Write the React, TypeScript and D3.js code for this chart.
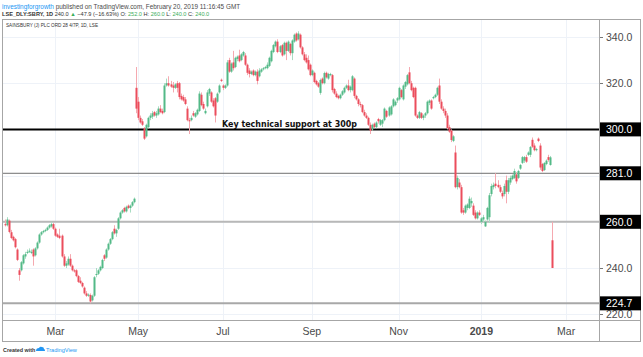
import React from "react";
import * as d3 from "d3";

// OHLC per trading day, Jan 25 2018 -> Feb 20 2019 (LSE, daily)
const ohlc: number[][] = [
  // Jan 25 - Apr 27 2018
  [259, 261, 258, 258.5], [258.5, 262, 258, 261], [260.5, 261, 255, 255.6], [255.5, 256.5, 252.5, 253],
  [253.5, 254, 251.5, 252], [252.5, 253, 248.5, 249], [248, 248.5, 243, 243.5], [239, 240, 234.5, 237],
  [239, 243, 238.5, 242.5], [242, 246, 241.5, 245.5], [245, 247, 244, 246], [246.5, 248, 246, 247],
  [247, 248.5, 246.5, 247.5], [246.5, 248, 246, 247], [248, 248.5, 241, 245], [245.5, 249, 245, 248.5],
  [248.5, 251.5, 248, 251], [251, 255, 250.5, 254.5], [254.5, 256, 254, 255.5], [255.5, 256.5, 255, 256],
  [256, 257, 255.5, 256.5], [256.5, 258, 256, 257.5], [257.5, 259, 257, 258.5], [258, 260, 257.5, 259],
  [259, 259.5, 256.5, 257], [257, 257.5, 253.5, 254], [254.5, 255, 253, 253.5], [254, 257, 252.5, 253],
  [254, 254.5, 244.5, 245], [245, 246, 240.5, 241], [241, 243, 240, 242], [241.5, 245, 241, 244],
  [244, 246, 240.5, 241], [241, 241.5, 238.5, 239], [239, 239.5, 238, 238.5], [239, 239.5, 236, 236.5],
  [236.5, 237, 233.5, 234], [234.5, 236, 233, 233.5], [233.5, 234, 231.5, 232], [231.5, 232, 228.5, 229],
  [229, 230, 227.5, 228], [228, 229, 227.5, 228.5], [228.3, 229, 224.7, 225.5], [226, 228.5, 225.5, 228],
  [228, 236.5, 227.5, 236], [237, 240, 236, 237.4], [237.5, 239.5, 237, 239], [239, 241, 238.5, 240.5],
  [240, 244, 239.5, 243.5], [245.5, 246, 243, 244], [244.5, 248.5, 244, 248], [248, 251, 247.5, 250.5],
  [250.5, 253, 250, 252.5], [252.5, 256, 252, 255.5], [257, 258.5, 254.5, 255], [255, 257, 253.5, 256.5],
  [257, 262, 256.5, 261.5], [261.5, 264.5, 261, 264], [264, 265.5, 263.5, 265], [266, 266.5, 264, 264.5],
  [264.5, 267, 264, 266.5], [267, 267.5, 265.5, 266], [266, 267.5, 264, 267], [267, 269, 266.5, 268.5],
  [268.5, 270.5, 268, 270],
  // Apr 30 - Oct 2018
  [318, 327, 307, 309], [312, 314, 304, 305], [305, 306, 302.5, 303], [303.5, 304.5, 301.5, 302],
  [300.5, 301, 295.4, 296], [297, 302.5, 296.5, 302], [301, 305.5, 300.5, 305], [305, 307, 304, 306],
  [305.5, 308, 304.5, 307], [307.5, 308, 305.5, 306], [306, 308, 305, 307], [306.5, 310, 306, 309],
  [309, 310.5, 307, 307.5], [308, 309, 306.5, 307], [307.5, 320, 307, 319], [319, 322, 318.5, 320],
  [320, 323, 318.5, 319], [319.5, 321, 318, 318.5], [319, 320.5, 316, 318], [318, 320, 317.5, 319.5],
  [320, 321, 316, 318], [320, 320.5, 313, 314], [314.5, 315.5, 312.5, 313], [314, 315, 312, 312.5],
  [313, 314, 310.5, 311], [309, 310, 303.5, 304], [304, 305, 298, 303.5], [304, 306, 303.5, 305],
  [307, 308, 305.5, 306], [305.5, 307.5, 305, 307], [306.5, 309, 306, 308.5], [308, 316.5, 307.5, 315.5],
  [315, 316, 310, 310.5], [311, 312, 308.5, 309], [307, 309, 306.5, 308], [310, 317, 309.5, 316],
  [315.5, 318, 314.5, 317.5], [316, 316.5, 311.5, 312], [312.5, 313.5, 309.5, 310], [313.5, 314, 303, 306],
  [312, 316, 311.5, 315.5], [316, 319.5, 315.5, 319], [321.5, 322, 320.5, 321], [319, 319.5, 317, 318],
  [318, 319.5, 317.5, 319], [319, 330, 318.5, 329], [330, 331, 324.5, 325], [325, 329, 324.5, 328.5],
  [329, 334, 325.5, 326.5], [327, 331.5, 326.5, 331], [330.5, 332, 329.5, 331.5], [332, 334.5, 329, 329.5],
  [330, 333, 329.5, 332.5], [332, 334, 331.5, 333.5], [332, 333, 327.5, 328], [328, 328.5, 323.5, 324.5],
  [325.5, 326.5, 322.5, 324], [324, 325.5, 323.5, 325], [325.5, 326, 323, 323.5], [323.5, 325.5, 323, 325],
  [325, 326, 319.5, 321], [323, 326.5, 322.5, 325.5], [325, 326.5, 324.5, 326], [326, 327, 325.5, 326.5],
  [326.5, 327.5, 326, 327], [326.5, 329, 326, 328], [327.5, 331.5, 327, 331], [329.5, 334.5, 329, 334],
  [333.5, 337, 333, 336.5], [336, 338.5, 335.5, 338], [338, 339, 333, 333.5], [333.5, 336.5, 333, 336],
  [336.5, 337, 331.5, 332], [332.5, 338, 332, 337.5], [337.5, 338, 330, 334], [334, 338.5, 333.5, 338],
  [337, 337.5, 332, 333], [333, 339, 330, 338.5], [338, 341.5, 337.5, 341], [341.5, 342, 338, 338.5],
  [339, 342.5, 338.5, 341.5], [341, 341.5, 335, 335.5], [335.5, 336, 332, 332.5], [332.5, 333.5, 329.5, 330],
  [331, 332.5, 328.5, 329], [330, 332, 325.5, 326], [328, 328.5, 323, 323.5], [323.5, 326, 323, 325.5],
  [324.5, 325, 320, 320.5], [321, 321.5, 319, 319.5], [320, 320.5, 318, 318.5], [315.8, 322, 315, 321.4],
  [322, 322.5, 319.5, 320], [320, 325, 319.5, 324.4], [324.5, 325, 322, 322.5], [322, 324.5, 321.5, 324],
  [323.5, 324.5, 323, 324], [323.5, 324, 316, 317], [317.5, 318, 315, 315.5], [315.5, 316.5, 313.5, 314],
  [314.5, 315, 313, 313.5], [313.5, 315.5, 313, 315], [315, 317, 314.5, 316.5], [316, 318.5, 315.5, 318],
  [318, 319.5, 317.5, 319], [319, 321.5, 316.5, 317], [317, 319, 316, 318.5], [317, 323.5, 316.5, 323],
  [322, 322.5, 313.5, 314.5], [314.5, 315, 312.5, 313], [313, 313.5, 310, 311], [311, 312, 309.5, 310.5],
  [310.5, 311, 307, 307.5], [307.5, 308.5, 305.5, 306], [306, 307, 304.5, 305], [305, 305.5, 301.5, 302],
  // Oct - Dec 2018
  [302, 303, 298, 299.5], [300, 302.5, 299.5, 302], [302.5, 303, 300.5, 301], [301, 303.5, 300.5, 303],
  [304.5, 305, 302.5, 303.5], [302, 304.5, 301.5, 304], [302.5, 304.5, 301, 304], [304, 309.5, 303.5, 309],
  [308, 308.5, 305, 305.5], [306, 310, 305.5, 309.5], [306.5, 310.5, 306, 310], [310, 313.5, 309.5, 313],
  [310.5, 312.5, 310, 312], [312.5, 314, 311.5, 313.5], [313, 318.5, 312.5, 318], [317, 317.5, 313.5, 314],
  [313, 319.5, 312.5, 319], [318.5, 321, 317.5, 320.5], [319.5, 324, 319, 323.5], [324.7, 327, 319.5, 320],
  [320, 321, 316.5, 317], [318, 318.5, 313.5, 314], [318, 318.5, 305.5, 306], [306, 306.5, 304.5, 305],
  [305, 308, 304.5, 307.5], [307, 307.5, 304.5, 305], [305, 306.5, 304, 306], [306, 307.5, 305, 307],
  [307, 312.5, 306.5, 312], [311.5, 313, 310.5, 312.5], [312.5, 313, 308.5, 309], [313.5, 314.5, 313, 314],
  [314, 315.5, 313.5, 315], [315, 318.5, 314.5, 318], [319, 322, 311, 312],
  [312, 313, 308.5, 309], [309, 310, 307, 308], [308, 309, 305, 306], [306, 307, 300, 300.6],
  [301, 302, 298.5, 299], [299.5, 300, 294.5, 295.4], [295, 297.5, 294.5, 297], [290, 293, 274.5, 275],
  [275, 280, 274, 279], [277, 278.5, 274.5, 275], [275, 276, 263.5, 264], [265, 266, 263, 264],
  [264, 267.5, 263.5, 267], [266, 268, 265, 267.5], [266, 271, 265.5, 270], [268, 270.5, 266.5, 269],
  [267, 268, 262.5, 263], [264, 265, 261, 261.5], [261.5, 264.5, 261, 264], [264, 265, 262.5, 263],
  // Jan - Feb 2019
  [260, 262, 259, 261.5], [261, 263, 260, 262], [258, 260.5, 257.8, 260], [261, 266.5, 260.5, 266],
  [262, 272.5, 259.5, 271.5], [272, 276.5, 271, 275.5], [275, 277, 274, 276], [276.5, 281, 274.5, 275.5],
  [276, 278, 274.5, 275], [275, 276, 272.5, 273], [272.5, 273.5, 270, 271], [272, 276.5, 271, 275.5],
  [278, 280, 268, 273], [273, 279, 272, 278], [277, 280, 276, 279], [278.5, 280.5, 278, 280],
  [279, 283, 278.5, 282], [280.5, 281.5, 276.5, 277.5], [279, 282.5, 278.5, 282], [283, 285, 282.5, 284.6],
  [285.5, 288.5, 285, 288], [286.5, 288.5, 285.5, 288], [288, 289, 285.5, 286], [289, 290.5, 288.5, 290],
  [289, 292.8, 288, 292.4], [295.5, 296.5, 292, 292.5], [293, 294, 290.5, 291], [291, 292, 290.5, 291.5],
  [296, 296.5, 294.5, 295], [293, 294, 282.5, 283.5], [285, 285.5, 281.5, 282], [282.4, 285.8, 282, 285.5],
  [285, 287, 284.5, 286.5], [288, 289, 286, 286.8], [284.6, 288.5, 284.3, 287.9], [252, 260, 240, 240],
];

const startDate = "2018-01-25";
const holidays = ["2018-03-30", "2018-04-02", "2018-05-07", "2018-05-28", "2018-08-27", "2018-12-25", "2018-12-26", "2019-01-01"];
const monthTicks = [
  { month: "2018-03", label: "Mar" },
  { month: "2018-05", label: "May" },
  { month: "2018-07", label: "Jul" },
  { month: "2018-09", label: "Sep" },
  { month: "2018-11", label: "Nov" },
  { month: "2019-01", label: "2019" },
  { month: "2019-03", label: "Mar" },
];
const priceTicks = [340, 320, 300, 280, 260, 240, 220];
const priceLabels = [340, 320, 240, 220];
const levels = [300, 281, 260, 224.7];
const annotation = "Key technical support at 300p";
const symbolTitle = "SAINSBURY (J) PLC ORD 28 4/7P, 1D, LSE";
const headerLine1 = ["investingforgrowth", " published on TradingView.com, February 20, 2019 11:16:45 GMT"];
const changeText = "−47.9 (−16.63%)";

function tradingDays(start: string, count: number): Date[] {
  const out: Date[] = [];
  const d = new Date(start + "T12:00:00Z");
  const fmt = d3.utcFormat("%Y-%m-%d");
  while (out.length < count) {
    const wd = d.getUTCDay();
    if (wd !== 0 && wd !== 6 && !holidays.includes(fmt(d))) out.push(new Date(d));
    d.setUTCDate(d.getUTCDate() + 1);
  }
  return out;
}

export default function App() {
  const W = 643, H = 357;
  const left = 2, right = 641, top = 19, plotBottom = 320, axisBottom = 342, axisX = 599;
  const N = ohlc.length;
  const x = d3.scaleLinear().domain([0, N - 1]).range([5, 552]);
  const y = d3.scaleLinear().domain([220, 340]).range([314.2, 37]);
  const days = tradingDays(startDate, N + 15);
  const fmtM = d3.utcFormat("%Y-%m");
  const ticks = monthTicks.map((t) => {
    const idx = days.findIndex((d) => fmtM(d) === t.month);
    return { ...t, x: x(idx) };
  });

  const upBody = "#53b987", downBody = "#eb4d5c";
  const upWick = "#a8dcc2", downWick = "#f5a9b0";
  const levelStyle = [
    { stroke: "#000", w: 2 },
    { stroke: "#6f6f6f", w: 1 },
    { stroke: "#b8b8b8", w: 2 },
    { stroke: "#a8a8a8", w: 2 },
  ];
  const axisFont = "'Liberation Sans', Arial, sans-serif";
  const green = "#3cae5a";
  const last = ohlc[N - 1];
  const hdr2: { t: string; c: string; b?: boolean }[] = [
    { t: "LSE_DLY:SBRY, 1D ", c: "#333", b: true },
    { t: last[3].toFixed(1) + " ", c: "#333" },
    { t: "▲ ", c: green },
    { t: changeText + " O: ", c: "#333" },
    { t: last[0].toFixed(1), c: green },
    { t: " H: ", c: "#333" },
    { t: last[1].toFixed(1), c: green },
    { t: " L: ", c: "#333" },
    { t: last[2].toFixed(1), c: green },
    { t: " C: ", c: "#333" },
    { t: last[3].toFixed(1), c: green },
  ];

  return (
    <svg width={W} height={H} style={{ position: "absolute", left: 0, top: 0, background: "#fff" }} fontFamily={axisFont}>
      <rect x={0} y={0} width={W} height={H} fill="#fff" />
      {/* header */}
      <text x={2} y={8.5} fontSize={6.4}>
        <tspan fill="#2196f3">{headerLine1[0]}</tspan>
        <tspan fill="#4a4a4a">{headerLine1[1]}</tspan>
      </text>
      <text x={2} y={15.5} fontSize={5.6} fill="#333">
        {hdr2.map((s, i) => (
          <tspan key={i} fill={s.c} fontWeight={s.b ? "bold" : "normal"}>{s.t}</tspan>
        ))}
      </text>

      {/* grid */}
      {priceTicks.map((p) => (
        <line key={"g" + p} x1={left} x2={axisX} y1={Math.round(y(p)) + 0.5} y2={Math.round(y(p)) + 0.5} stroke="#eef2f8" />
      ))}
      {ticks.map((t, i) => (
        <line key={"v" + i} x1={Math.round(t.x) + 0.5} x2={Math.round(t.x) + 0.5} y1={top} y2={plotBottom} stroke="#eef2f8" />
      ))}

      {/* levels */}
      {levels.map((v, i) => (
        <line key={"l" + v} x1={left} x2={axisX} y1={y(v)} y2={y(v)} stroke={levelStyle[i].stroke} strokeWidth={levelStyle[i].w} />
      ))}

      {/* candles */}
      {ohlc.map((c, i) => {
        const [o, h, l, cl] = c;
        const up = cl >= o;
        const cx = Math.round(x(i));
        const yt = y(Math.max(o, cl));
        const yb = y(Math.min(o, cl));
        return (
          <g key={i}>
            <line x1={cx + 0.5} x2={cx + 0.5} y1={y(h)} y2={y(l)} stroke={up ? upWick : downWick} strokeWidth={1} />
            <rect x={cx - 0.5} y={yt} width={2} height={Math.max(1, yb - yt)} fill={up ? upBody : downBody} />
          </g>
        );
      })}

      <text x={222} y={126.5} fontSize={9.5} fontWeight="bold" fill="#111" textLength={135} lengthAdjust="spacingAndGlyphs" fontFamily="'DejaVu Sans', Verdana, sans-serif">
        {annotation}
      </text>

      <text x={6} y={26.5} fontSize={5.6} fill="#333" textLength={92} lengthAdjust="spacingAndGlyphs">
        {symbolTitle}
      </text>

      {/* frame */}
      <rect x={left + 0.5} y={top + 0.5} width={right - left - 1} height={axisBottom - top - 1} fill="none" stroke="#a6a6a6" />
      <line x1={axisX + 0.5} x2={axisX + 0.5} y1={top} y2={axisBottom} stroke="#a6a6a6" />
      <line x1={left} x2={right} y1={plotBottom + 0.5} y2={plotBottom + 0.5} stroke="#a6a6a6" />

      {/* price axis */}
      {priceLabels.map((p) => (
        <g key={"p" + p}>
          <line x1={axisX + 1} x2={axisX + 4} y1={Math.round(y(p)) + 0.5} y2={Math.round(y(p)) + 0.5} stroke="#777" />
          <text x={606} y={y(p) + 3.8} fontSize={10.5} fill="#4a4a4a">{p.toFixed(1)}</text>
        </g>
      ))}
      {levels.map((v) => (
        <g key={"b" + v}>
          <rect x={axisX + 1} y={y(v) - 7} width={right - axisX - 1} height={14} fill="#000" />
          <text x={606} y={y(v) + 3.8} fontSize={10.5} fill="#fff">{v.toFixed(1)}</text>
        </g>
      ))}

      {/* time axis */}
      {ticks.map((t, i) => (
        <text key={"t" + i} x={t.x} y={335} fontSize={10.5} textAnchor="middle" fill="#4a4a4a" fontWeight={t.label === "2019" ? "bold" : "normal"}>
          {t.label}
        </text>
      ))}

      {/* footer */}
      <text x={3} y={352} fontSize={5.4} fill="#333" fontWeight="bold">Created with</text>
      <path d="M36,351 q0,-3 3,-3 q1,-2 3,-1 q2,0 2,2 q1,0 1,2 z" fill="#2196f3" />
      <text x={46} y={352} fontSize={5.6} fill="#2196f3">TradingView</text>
    </svg>
  );
}
